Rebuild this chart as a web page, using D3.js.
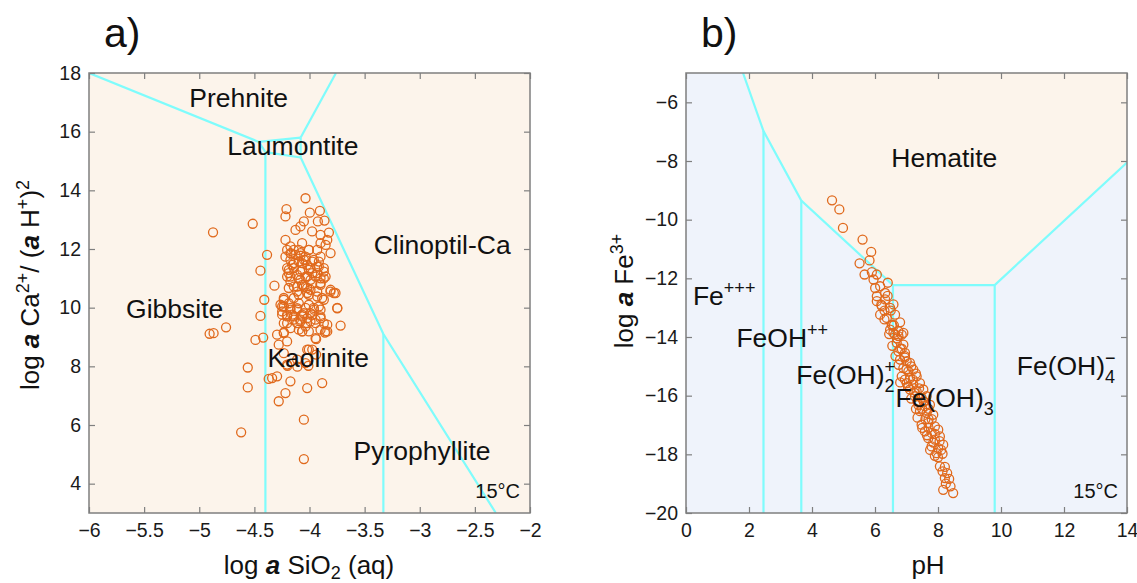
<!DOCTYPE html>
<html><head><meta charset="utf-8">
<script src="https://cdn.jsdelivr.net/npm/d3@7"></script>
<style>body{margin:0;background:#fff}svg{display:block}text{font-family:"Liberation Sans",Arial,sans-serif}</style>
</head><body><svg id="c" width="1137" height="583"></svg>
<script>
// ---------- DATA ----------
const aXTicks = [-6,-5.5,-5,-4.5,-4,-3.5,-3,-2.5,-2];
const aYTicks = [4,6,8,10,12,14,16,18];
const bXTicks = [0,2,4,6,8,10,12,14];
const bYTicks = [-20,-18,-16,-14,-12,-10,-8,-6];

// panel a phase boundaries (log a SiO2, log a Ca2+/(aH+)^2)
const aBounds = [
  [[-6,18],[-4.46,15.65]],
  [[-4.46,15.65],[-4.40,15.30]],
  [[-4.46,15.65],[-4.08,15.80]],
  [[-4.08,15.80],[-3.76,18]],
  [[-4.40,15.30],[-4.08,15.12]],
  [[-4.08,15.80],[-4.08,15.12]],
  [[-4.08,15.12],[-3.33,9.1],[-2.31,3]],
  [[-4.40,15.30],[-4.40,3]],
  [[-3.33,9.1],[-3.33,3]]
];
// panel b: hematite field and boundaries (pH, log a Fe3+)
const bHematite = [[1.81,-5],[2.46,-6.98],[3.66,-9.35],[6.57,-12.23],[9.8,-12.23],[14,-8.05],[14,-5]];
const bBounds = [
  [[1.81,-5],[2.46,-6.98],[3.66,-9.35],[6.57,-12.23],[9.8,-12.23],[14,-8.05]],
  [[2.46,-6.98],[2.46,-20]],
  [[3.66,-9.35],[3.66,-20]],
  [[6.57,-12.23],[6.57,-20]],
  [[9.8,-12.23],[9.8,-20]]
];

// scatter a
const aSiO2 = [-4.875,-4.515,-4.445,-4.385,-4.41,-4.445,-4.757,-4.87,-4.906,-4.49,-4.42,-4.56,-4.56,-4.62,
-4.036,-4.209,-4.218,-3.997,-3.906,-4.051,-4.082,-3.924,-3.864,-4.127,-4.218,-3.976,-3.9,-3.824,-3.839,-4.067,-3.9,-3.854,-3.809,-4.173,-4.097,-4.006,-3.93,-4.167,-4.082,-4.036,-3.961,-3.9,-4.142,-4.067,-3.991,-3.915,-3.87,-4.188,-4.082,-4.203,-4.097,-4.021,-3.945,-3.854,-4.318,-4.188,-4.112,-4.051,-3.991,-3.9,-3.809,-3.764,-4.233,-4.006,-3.93,-3.87,-3.748,-4.248,-4.173,-4.112,-4.036,-3.961,-3.9,-4.203,-4.142,-4.067,-3.991,-3.9,-4.248,-3.839,-3.718,-4.082,-4.021,-3.945,-4.233,-4.067,-4.006,-3.9,-3.854,-4.294,-4.233,-4.279,-4.203,-3.945,-4.021,-4.233,-4.112,-4.036,-4.203,-4.294,-4.339,-4.37,-4.173,-4.021,-3.885,-4.218,-4.279,-4.051,-4.051,
-4.173,-4.127,-4.082,-4.036,-4.173,-4.097,-4.021,-4.142,-4.066,-3.975,-4.188,-3.93,-3.87,-4.173,-4.066,-3.99,-3.9,-3.81,-4.112,-4.021,
-4.233,-4.173,-4.112,-4.051,-4.203,-4.142,-4.082,-4.021,-3.975,-4.233,-4.142,-4.066,-4.097,-4.006,-3.975,-4.233,-3.87,-3.839,-3.748,-3.885,-3.779,-3.915,-4.2,-4.11,-4.01,-3.94,-3.94,-3.86,
-4.203,-4.142,-4.006,-4.218,-4.051,-3.975,-4.157,-3.915,-4.203,-4.006,-4.112,-3.93,-4.036,-4.173,-3.87,-4.082,-3.975,-4.142,-3.9,-4.021,-3.93,-4.097,
-4.263,-4.188,-4.097,-4.006,-3.96,-4.248,-4.157,-4.066,-3.991,-4.112,-4.203,-4.036,-3.945,-3.9,-4.173];
const aCa = [12.57,12.86,11.26,11.8,10.27,9.72,9.33,9.13,9.11,8.9,8.98,7.96,7.28,5.75,
13.73,13.36,13.11,13.24,13.30,12.94,12.77,12.94,12.97,12.65,12.31,12.60,12.48,12.56,12.31,12.20,12.20,12.14,11.86,12.09,11.97,11.97,11.97,11.84,11.77,11.63,11.63,11.74,11.52,11.52,11.35,11.40,11.35,11.29,11.23,11.06,11.01,11.06,11.06,11.06,10.75,10.67,10.72,10.72,10.61,10.84,10.61,10.5,10.33,10.44,10.38,10.27,9.99,10.04,9.99,9.93,9.99,9.99,9.93,9.76,9.70,9.76,9.81,9.70,9.76,9.42,9.39,9.59,9.47,9.59,9.47,9.19,9.19,9.25,9.19,9.08,9.13,8.74,8.85,8.96,8.57,8.45,8.23,8.11,8.06,7.66,7.60,7.57,7.49,7.26,7.43,7.09,6.81,6.18,4.84,
11.86,11.80,11.86,11.74,11.63,11.57,11.46,11.35,11.29,11.18,11.18,11.4,11.23,10.89,10.78,10.95,11.0,10.55,10.55,10.67,
10.04,9.93,9.98,9.81,9.70,9.59,9.53,9.64,9.76,10.27,10.33,9.19,9.25,8.57,8.57,9.16,9.47,9.19,9.98,10.33,10.5,10.04,8.02,7.99,8.02,8.4,8.93,9.15,
11.97,11.97,11.97,11.74,11.63,11.57,11.46,11.57,11.35,11.29,11.12,11.18,11.06,11.06,11.0,10.95,10.83,10.72,10.78,10.5,10.55,10.44,
10.1,10.15,10.15,10.1,9.93,9.87,9.76,9.7,9.53,9.47,9.47,9.36,9.47,9.64,9.3];

// scatter b
const bPH = [4.636,4.868,4.983,5.605,5.879,5.826,5.51,5.668,5.9,6.058,6.406,5.953,6.005,6.163,6.322,6.058,6.058,6.322,6.585,6.216,6.48,6.163,6.637,6.374,6.796,6.532,6.48,6.743,6.9,6.637,
6.585,6.743,6.848,6.69,6.9,6.743,6.953,6.795,7.006,7.111,6.9,7.059,7.217,6.848,7.111,7.322,7.006,7.217,7.427,7.111,7.322,7.533,7.269,7.48,7.638,7.375,7.585,7.743,7.427,7.638,7.849,7.48,7.691,7.901,7.585,7.796,8.007,7.691,7.901,8.06,7.796,8.007,8.165,7.954,8.144,8.06,8.218,8.144,8.291,8.218,8.354,8.249,8.397,8.165,8.481,
6.3,6.55,6.7,6.85,6.95,7.15,7.3,7.05,7.55,7.7,
6.2,6.4,6.5,6.3,6.6,6.45,6.7,6.55,6.8,6.65,6.95,6.75,7.0,6.8,6.95,7.2,7.05,7.25,7.4,7.15,7.35,7.55,7.3,7.5,7.7,7.35,7.6,7.8,7.5,7.7,7.9,7.65,7.85,8.05,7.75,7.9,8.1,8.0];
const bFe = [-9.34,-9.65,-10.28,-10.68,-11.10,-11.39,-11.49,-11.87,-11.79,-11.87,-12.15,-12.04,-12.33,-12.27,-12.5,-12.61,-12.78,-12.72,-12.89,-12.95,-13.01,-13.24,-13.24,-13.35,-13.5,-13.58,-13.75,-13.8,-13.86,-13.92,
-13.86,-13.97,-13.92,-14.2,-14.26,-14.49,-14.54,-14.77,-14.83,-14.88,-15.06,-15.17,-15.11,-15.34,-15.40,-15.34,-15.57,-15.62,-15.57,-15.79,-15.85,-15.79,-16.02,-16.08,-16.02,-16.31,-16.36,-16.31,-16.53,-16.59,-16.65,-16.99,-16.93,-17.05,-17.22,-17.27,-17.16,-17.45,-17.50,-17.39,-17.73,-17.79,-17.67,-17.96,-17.98,-18.41,-18.43,-18.58,-18.64,-18.81,-18.84,-19.0,-19.09,-19.21,-19.32,
-13.1,-13.6,-14.05,-14.4,-14.65,-15.0,-15.25,-15.7,-16.2,-16.8,
-12.9,-12.6,-13.1,-13.4,-13.6,-13.9,-14.05,-14.3,-14.4,-14.65,-14.7,-14.95,-15.1,-15.55,-15.45,-15.45,-15.7,-15.9,-15.75,-16.1,-16.2,-16.2,-16.45,-16.45,-16.45,-16.75,-16.8,-16.8,-17.1,-17.1,-17.3,-17.35,-17.6,-17.55,-17.85,-18.05,-17.85,-18.1];

// ---------- DRAW ----------
const svg = d3.select("#c");
const PEACH = "#fcf4eb", BLUE = "#eff3fb", CYAN = "#7ffcfc", ORANGE = "#e0691c", AXC = "#7f7f7f";
const pTop = 73, pBot = 513;

function panel(opt){
  const x = d3.scaleLinear().domain(opt.xd).range([opt.l, opt.r]);
  const y = d3.scaleLinear().domain(opt.yd).range([pBot, pTop]);
  const g = svg.append("g");
  g.append("rect").attr("x",opt.l).attr("y",pTop).attr("width",opt.r-opt.l).attr("height",pBot-pTop).attr("fill",opt.bg);
  const line = d3.line().x(d=>x(d[0])).y(d=>y(d[1]));
  if (opt.fillPoly) g.append("path").attr("d", line(opt.fillPoly)+"Z").attr("fill",PEACH);
  const clip = "clip"+opt.id;
  g.append("clipPath").attr("id",clip).append("rect").attr("x",opt.l).attr("y",pTop).attr("width",opt.r-opt.l).attr("height",pBot-pTop);
  g.append("g").attr("clip-path",`url(#${clip})`).selectAll("path.b").data(opt.bounds).join("path")
    .attr("d",line).attr("fill","none").attr("stroke",CYAN).attr("stroke-width",2.2);
  g.append("g").selectAll("circle").data(opt.px.map((v,i)=>[v,opt.py[i]])).join("circle")
    .attr("cx",d=>x(d[0])).attr("cy",d=>y(d[1])).attr("r",4.5)
    .attr("fill","none").attr("stroke",ORANGE).attr("stroke-width",1.3);
  const fmt = d => (d<0?"\u2212":"") + Math.abs(d);
  const ax = g.append("g").attr("transform",`translate(0,${pBot})`)
    .call(d3.axisBottom(x).tickValues(opt.xt).tickSizeInner(-6).tickSizeOuter(0).tickPadding(10).tickFormat(fmt));
  const ay = g.append("g").attr("transform",`translate(${opt.l},0)`)
    .call(d3.axisLeft(y).tickValues(opt.yt).tickSizeInner(-6).tickSizeOuter(0).tickPadding(8).tickFormat(fmt));
  const axt = g.append("g").attr("transform",`translate(0,${pTop})`)
    .call(d3.axisTop(x).tickValues(opt.xt).tickSizeInner(-6).tickSizeOuter(0).tickFormat(""));
  const ayr = g.append("g").attr("transform",`translate(${opt.r},0)`)
    .call(d3.axisRight(y).tickValues(opt.yt).tickSizeInner(-6).tickSizeOuter(0).tickFormat(""));
  [ax,ay,axt,ayr].forEach(a=>{
    a.select(".domain").remove();
    a.selectAll("line").attr("stroke",AXC).attr("stroke-width",1.2);
    a.selectAll("text").attr("font-size",19.5).attr("fill","#1a1a1a").attr("font-family","Liberation Sans, Arial, sans-serif");
  });
  g.append("rect").attr("x",opt.l).attr("y",pTop).attr("width",opt.r-opt.l).attr("height",pBot-pTop)
    .attr("fill","none").attr("stroke",AXC).attr("stroke-width",1.5);
  return {x,y,g};
}

const A = panel({id:"a", l:89, r:530, xd:[-6,-2], yd:[3,18], bg:PEACH, bounds:aBounds, px:aSiO2, py:aCa, xt:aXTicks, yt:aYTicks});
const B = panel({id:"b", l:686, r:1127, xd:[0,14], yd:[-20,-5], bg:BLUE, fillPoly:bHematite, bounds:bBounds, px:bPH, py:bFe, xt:bXTicks, yt:bYTicks});

const aLabels = [["Prehnite",-5.09,16.84],["Laumontite",-4.745,15.2],["Clinoptil-Ca",-3.418,11.83],["Gibbsite",-5.664,9.65],["Kaolinite",-4.382,7.98],["Pyrophyllite",-3.6,4.8]];
aLabels.forEach(([t,xv,yv])=>{
  svg.append("text").attr("x",A.x(xv)).attr("y",A.y(yv)).attr("font-size",26.5).attr("fill","#111").text(t);
});
svg.append("text").attr("x",A.x(-2)-10).attr("y",498).attr("text-anchor","end").attr("font-size",20).attr("fill","#111").text("15°C");
svg.append("text").attr("x",B.x(14)-9).attr("y",498).attr("text-anchor","end").attr("font-size",20).attr("fill","#111").text("15°C");

function rich(x,y,parts,size,anchor,rot){
  const t = svg.append("text").attr("font-size",size).attr("fill","#111")
    .attr("text-anchor",anchor||"start");
  if(rot){ t.attr("transform",`translate(${x},${y}) rotate(-90)`); } else { t.attr("x",x).attr("y",y); }
  parts.forEach(p=>{
    const s = t.append("tspan").text(p.t);
    if(p.b) s.attr("font-weight","bold").attr("font-style","italic");
    if(p.fs) s.attr("font-size",p.fs);
    if(p.dy) s.attr("dy",p.dy);
    if(p.dx) s.attr("dx",p.dx);
  });
  return t;
}
svg.append("text").attr("x",B.x(8.2)).attr("y",B.y(-8.2)).attr("text-anchor","middle").attr("font-size",26.5).attr("fill","#111").text("Hematite");
rich(B.x(0.22),305,[{t:"Fe"},{t:"+++",fs:18,dy:-11}],26.5);
rich(B.x(1.6),347,[{t:"FeOH"},{t:"++",fs:18,dy:-11}],26.5);
rich(B.x(3.5),384,[{t:"Fe(OH)"},{t:"2",fs:18,dy:8},{t:"+",fs:18,dy:-19,dx:-10}],26.5);
rich(B.x(6.65),407,[{t:"Fe(OH)"},{t:"3",fs:18,dy:8}],26.5);
rich(B.x(10.5),375,[{t:"Fe(OH)"},{t:"4",fs:18,dy:8},{t:"\u2212",fs:18,dy:-19,dx:-10}],26.5);

svg.append("text").attr("x",104).attr("y",47).attr("font-size",41).attr("fill","#111").text("a)");
svg.append("text").attr("x",701).attr("y",47).attr("font-size",41).attr("fill","#111").text("b)");

rich(309,574,[{t:"log "},{t:"a",b:1},{t:" SiO"},{t:"2",fs:18,dy:5},{t:" (aq)",dy:-5}],26,"middle");
svg.append("text").attr("x",928).attr("y",574).attr("text-anchor","middle").attr("font-size",26).attr("fill","#111").text("pH");
rich(39,285,[{t:"log "},{t:"a",b:1},{t:" Ca"},{t:"2+",fs:18,dy:-10},{t:"/ (",dy:10},{t:"a",b:1},{t:" H"},{t:"+",fs:18,dy:-10},{t:")",dy:10},{t:"2",fs:18,dy:-10}],26,"middle",true);
rich(633,291,[{t:"log "},{t:"a",b:1},{t:" Fe"},{t:"3+",fs:18,dy:-10}],26,"middle",true);
</script></body></html>
